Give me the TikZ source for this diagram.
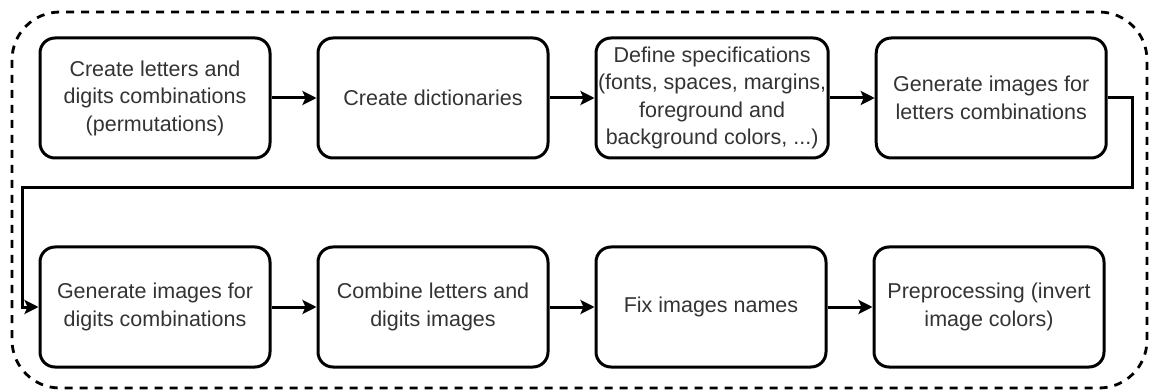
\documentclass[tikz,border=0pt]{standalone}
\usepackage{fontspec}
\setmainfont{Liberation Sans}
\usetikzlibrary{positioning}
\usetikzlibrary{arrows.meta}
\tikzset{stepbox/.style={draw, line width=3pt, rounded corners=15pt, minimum width=230pt,
    minimum height=120pt, align=center, text=black!80, inner sep=2pt,
    font=\fontsize{21.5}{27.5}\selectfont}}
\tikzstyle{arrow} = [line width=3pt,-{Stealth[length=14pt,width=14pt,inset=3pt]}]

\begin{document}
\begin{tikzpicture}[x=1pt,y=1pt]
\useasboundingbox (0,0) rectangle (1149,-390);
\draw[line width=2.8pt, dash pattern=on 8pt off 7pt, rounded corners=48pt] (12,-12) rectangle (1147,-388);

\node[stepbox] (letters) at (155,-98) {Create letters and\\digits combinations\\(permutations)};
\node[stepbox, right=45pt of letters] (dict) {Create dictionaries};
\node[stepbox, right=45pt of dict] (specs) {Define specifications\\(fonts, spaces, margins,\\foreground and\\background colors, ...)};
\node[stepbox, right=45pt of specs] (genletters) {Generate images for\\letters combinations};

\node[stepbox] (gendigits) at (155,-307) {Generate images for\\digits combinations};
\node[stepbox, right=45pt of gendigits] (combine) {Combine letters and\\digits images};
\node[stepbox, right=45pt of combine] (fixnames) {Fix images names};
\node[stepbox, right=45pt of fixnames] (invert) {Preprocessing (invert\\image colors)};

\coordinate (turnA) at (1132,-98);
\coordinate (turnB) at (1132,-188);
\coordinate (turnC) at (22,-188);
\coordinate (turnD) at (22,-307);

\draw[arrow] (letters) -- (dict);
\draw[arrow] (dict) -- (specs);
\draw[arrow] (specs) -- (genletters);
\draw[arrow] (genletters.east) -- (turnA) -- (turnB) -- (turnC) -- (turnD) -- (gendigits.west);
\draw[arrow] (gendigits) -- (combine);
\draw[arrow] (combine) -- (fixnames);
\draw[arrow] (fixnames) -- (invert);
\end{tikzpicture}
\end{document}
